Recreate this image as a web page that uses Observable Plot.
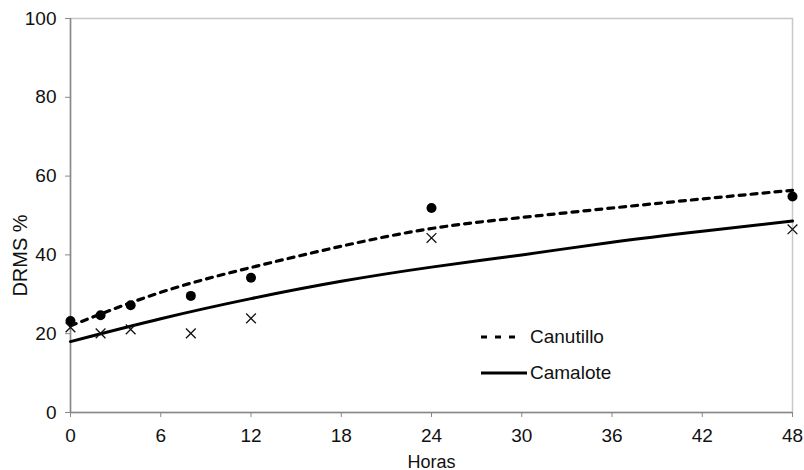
<!DOCTYPE html>
<html><head><meta charset="utf-8">
<script src="https://cdn.jsdelivr.net/npm/d3@7"></script>
<script src="https://cdn.jsdelivr.net/npm/@observablehq/plot@0.6"></script>
<style>
body{margin:0;background:#fff;}
#wrap{position:relative;width:804px;height:470px;font-family:"Liberation Sans",Arial,sans-serif;}
#legend{position:absolute;left:481px;top:319px;font-size:19px;color:#111;line-height:36px;}
#legend div{display:flex;align-items:center;}
#legend svg{margin-right:3px;}
g[aria-label="y-axis tick label"], g[aria-label="x-axis tick label"]{font-size:19px;}
</style></head><body><div id="wrap"></div>
<script>
const hours = [0, 2, 4, 8, 12, 24, 48];
const canutilloObs = [23.2, 24.7, 27.2, 29.6, 34.2, 51.9, 54.8];
const camaloteObs = [21.6, 20.1, 21.1, 20.1, 23.9, 44.3, 46.5];
const curveHours = [0, 6, 12, 18, 24, 30, 36, 42, 48];
const canutilloFit = [22, 30.5, 36.8, 42.2, 46.7, 49.5, 51.9, 54.2, 56.4];
const camaloteFit = [18, 23.8, 28.9, 33.3, 36.9, 40.0, 43.2, 46.0, 48.6];
const xTicks = [0, 6, 12, 18, 24, 30, 36, 42, 48];
const yTicks = [0, 20, 40, 60, 80, 100];
const seriesNames = ["Canutillo", "Camalote"];

const obsC = hours.map((h, i) => ({h, v: canutilloObs[i]}));
const obsM = hours.map((h, i) => ({h, v: camaloteObs[i]}));
const fitC = curveHours.map((h, i) => ({h, v: canutilloFit[i]}));
const fitM = curveHours.map((h, i) => ({h, v: camaloteFit[i]}));

const chart = Plot.plot({
  width: 804, height: 470,
  marginLeft: 70, marginRight: 12, marginTop: 18, marginBottom: 58,
  style: {fontFamily: "'Liberation Sans', Arial, sans-serif", fontSize: "19px", color: "#111", background: "#fff"},
  x: {domain: [0, 48], ticks: xTicks},
  y: {domain: [0, 100], ticks: yTicks},
  marks: [
    Plot.frame({stroke: "#c8c8c8", strokeWidth: 1.5}),
    Plot.ruleX([0], {stroke: "#888", strokeWidth: 1.5}),
    Plot.ruleY([0], {stroke: "#888", strokeWidth: 1.5}),
    Plot.axisY({ticks: yTicks, tickSize: 5, tickPadding: 9, stroke: "#888", fill: "#111", label: null}),
    Plot.axisX({ticks: xTicks, tickSize: 5, tickPadding: 11, stroke: "#888", fill: "#111", label: null}),
    Plot.text(["Horas"], {frameAnchor: "bottom", dy: 55, fontSize: 18, fill: "#111", lineAnchor: "bottom"}),
    Plot.text(["DRMS %"], {frameAnchor: "left", textAnchor: "middle", dx: -50, dy: 40, rotate: -90, fontSize: 20, fill: "#111"}),
    Plot.line(fitM, {x: "h", y: "v", curve: "natural", stroke: "#000", strokeWidth: 3}),
    Plot.line(fitC, {x: "h", y: "v", curve: "natural", stroke: "#000", strokeWidth: 3.2, strokeDasharray: "6,6"}),
    Plot.dot(obsC, {x: "h", y: "v", r: 5, fill: "#000", stroke: "none"}),
    Plot.dot(obsM, {x: "h", y: "v", r: 4.5, symbol: "times", stroke: "#111", strokeWidth: 1.3})
  ]
});
const wrap = document.getElementById("wrap");
wrap.appendChild(chart);

const legend = document.createElement("div");
legend.id = "legend";
legend.innerHTML = `
<div><svg width="46" height="10"><line x1="0" x2="34" y1="5" y2="5" stroke="#000" stroke-width="3.2" stroke-dasharray="6,8"/></svg><span>${seriesNames[0]}</span></div>
<div><svg width="46" height="10"><line x1="0" x2="46" y1="5" y2="5" stroke="#000" stroke-width="3"/></svg><span>${seriesNames[1]}</span></div>`;
wrap.appendChild(legend);
</script></body></html>
